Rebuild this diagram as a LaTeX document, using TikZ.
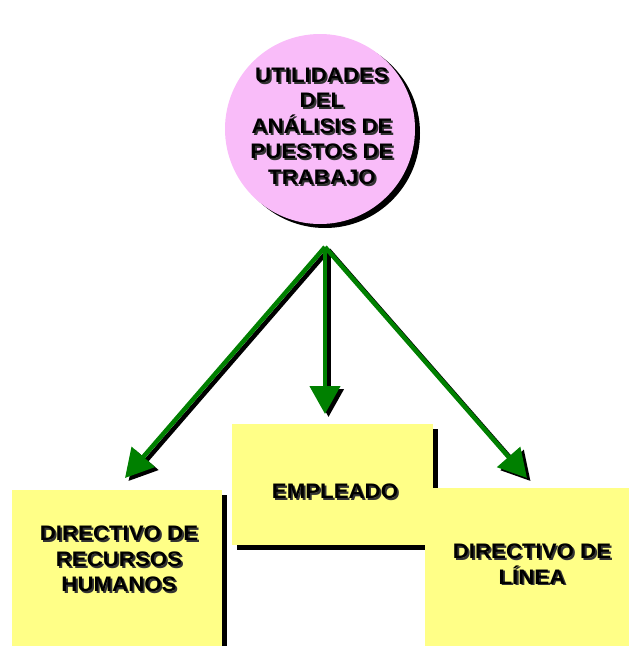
\documentclass[tikz,border=0pt]{standalone}
\usepackage{fontspec}
\setmainfont{Liberation Sans}
\newfontfamily\capfont[FakeStretch=1.06]{Liberation Sans Bold}
\usetikzlibrary{arrows.meta}

\definecolor{cardyellow}{RGB}{255,255,135}
\definecolor{bubblepink}{RGB}{249,188,249}
\definecolor{arrowgreen}{RGB}{0,128,0}

% one caption line with its offset shadow behind it
\newcommand{\shline}[1]{\makebox[0pt][l]{\hspace{1.8pt}\raisebox{-1.8pt}{\color{black!80}#1}}#1}

\tikzset{
  % yellow cards with a hard black drop shadow
  card/.style={rectangle, fill=cardyellow, inner sep=0pt, anchor=north west,
    preaction={fill=black, transform canvas={shift={(5pt,-5pt)}}}},
  % pink bubble with a hard black drop shadow
  bubble/.style={circle, fill=bubblepink, inner sep=0pt,
    preaction={fill=black, transform canvas={shift={(5pt,-4pt)}}}},
  % bold captions
  caption/.style={font=\capfont\fontsize{21}{25.5}\selectfont, align=center,
    inner sep=0pt, text=black},
  % green connectors and their black shadows
  conn/.style={draw=arrowgreen, line width=4.5pt,
    -{Triangle[length=28pt,width=30pt]}},
  connshadow/.style={conn, draw=black,
    transform canvas={shift={(3.5pt,-3pt)}}},
}

\begin{document}
\begin{tikzpicture}[x=1pt, y=-1pt]
  \useasboundingbox (0,0) rectangle (629,646);
  \clip (0,0) rectangle (629,646);

  % central bubble
  \node[bubble, minimum size=190pt] (utilidades) at (320,129) {};
  \node[caption] (utilidadesT) at (322,127)
    {\shline{UTILIDADES}\\\shline{DEL}\\\shline{ANÁLISIS DE}\\\shline{PUESTOS DE}\\\shline{TRABAJO}};

  % cards
  \node[card, minimum width=210pt, minimum height=200pt] (rrhh) at (12,490) {};
  \node[card, minimum width=201pt, minimum height=121pt] (empleado) at (232,424) {};
  \node[card, minimum width=205pt, minimum height=200pt] (linea) at (425,488) {};

  \node[caption] (rrhhT) at (119,560)
    {\shline{DIRECTIVO DE}\\\shline{RECURSOS}\\\shline{HUMANOS}};
  \node[caption] (empleadoT) at (335,492) {\shline{EMPLEADO}};
  \node[caption] (lineaT) at (532,565) {\shline{DIRECTIVO DE}\\\shline{LÍNEA}};

  % connector fan
  \coordinate (apex) at (325,247);
  \coordinate (toRrhh) at (125,478);
  \coordinate (toEmpleado) at (325,414);
  \coordinate (toLinea) at (527,478);

  \draw[connshadow] (apex) -- (toRrhh);
  \draw[connshadow] (apex) -- (toEmpleado);
  \draw[connshadow] (apex) -- (toLinea);
  \draw[conn] (apex) -- (toRrhh);
  \draw[conn] (apex) -- (toEmpleado);
  \draw[conn] (apex) -- (toLinea);
\end{tikzpicture}
\end{document}
